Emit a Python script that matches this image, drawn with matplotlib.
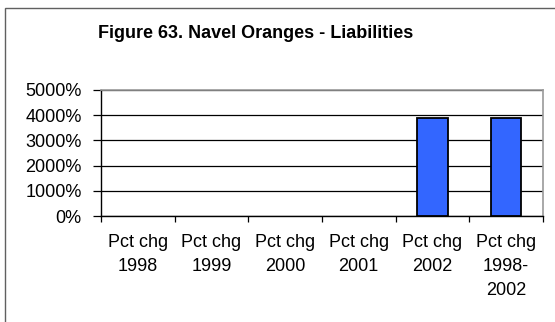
import matplotlib.pyplot as plt
from matplotlib.patches import Rectangle
import numpy as np

# Percent change in liabilities, navel oranges
categories = ["Pct chg\n1998", "Pct chg\n1999", "Pct chg\n2000", "Pct chg\n2001",
              "Pct chg\n2002", "Pct chg\n1998-\n2002"]
pct_change = [0, 0, 0, 0, 3900, 3900]
y_ticks = [0, 1000, 2000, 3000, 4000, 5000]

plt.rcParams['font.family'] = ['Liberation Sans', 'DejaVu Sans']

fig = plt.figure(figsize=(5.55, 3.22), dpi=100)
ax = fig.add_axes([0.182, 0.329, 0.796, 0.3915])

# outer chart frame (runs off the right and bottom)
fig.add_artist(Rectangle((5 / 555, -0.2), 1.2, 1.2 - 8 / 322, transform=fig.transFigure,
                         fill=False, edgecolor='#606060', linewidth=1.0))

x = np.arange(len(categories))
# zero-height bars get no outline
edge_w = [1.3 if v != 0 else 0 for v in pct_change]
ax.bar(x, pct_change, width=0.42, color='#3366FF', edgecolor='black', linewidth=edge_w, zorder=3)

ax.set_xlim(-0.5, len(categories) - 0.5)
ax.set_ylim(0, 5000)
ax.set_yticks(y_ticks)
ax.set_yticklabels([f"{v}%" for v in y_ticks])
ax.yaxis.grid(True, color='black', linewidth=0.9)
ax.set_axisbelow(True)

ax.set_xticks(x)
ax.set_xticklabels(categories, linespacing=1.55)
ax.set_xticks(np.arange(len(categories) + 1) - 0.5, minor=True)
ax.tick_params(axis='x', which='major', length=0, pad=13, labelsize=13)
ax.tick_params(axis='x', which='minor', length=4, width=0.9, direction='out')
ax.tick_params(axis='y', length=6, width=0.9, direction='out', pad=8, labelsize=13)

for side in ['top', 'right']:
    ax.spines[side].set_color('#9a9a9a')
    ax.spines[side].set_linewidth(1.2)
for side in ['left', 'bottom']:
    ax.spines[side].set_color('black')
    ax.spines[side].set_linewidth(1.0)

fig.text(256 / 555, 1 - 33 / 322, "Figure 63. Navel Oranges - Liabilities",
         ha='center', va='center', fontsize=13, fontweight='bold')

fig.savefig('out.png', dpi=100)
